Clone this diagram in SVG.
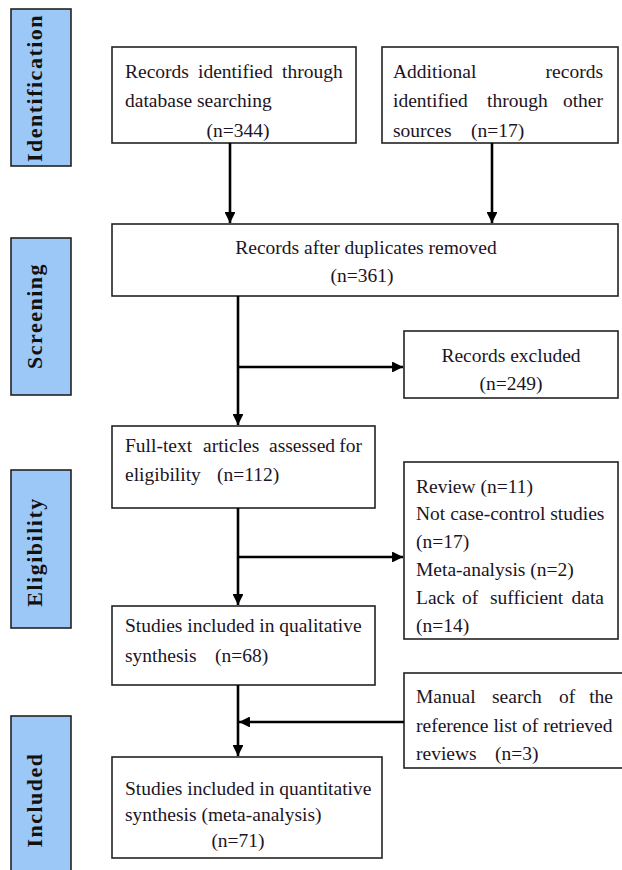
<svg xmlns="http://www.w3.org/2000/svg" width="622" height="870" viewBox="0 0 622 870">
<style>
.box{fill:#fff;stroke:#222;stroke-width:1.6}
.lab{fill:#9cc8f7;stroke:#222;stroke-width:1.6}
.t{font-family:"Liberation Serif","Times New Roman",serif;font-size:19.5px;fill:#1c1424}
.c{text-anchor:middle}
.lt{font-family:"Liberation Serif","Times New Roman",serif;font-size:22px;font-weight:bold;fill:#111;text-anchor:middle;letter-spacing:1.5px}
.ln{fill:none;stroke:#000;stroke-width:2.6}
</style>
<defs>
<marker id="ah" viewBox="0 0 10 10" refX="10" refY="5" markerWidth="4.2" markerHeight="4.2" orient="auto" markerUnits="strokeWidth">
<path d="M0,0 L10,5 L0,10 z" fill="#000"/>
</marker>
</defs>

<g id="label-identification">
<rect class="lab" x="11" y="9" width="60" height="157"/>
<text class="lt" transform="translate(42,88) rotate(-90)">Identification</text>
</g>
<g id="label-screening">
<rect class="lab" x="11" y="238" width="60" height="157"/>
<text class="lt" transform="translate(42,316) rotate(-90)">Screening</text>
</g>
<g id="label-eligibility">
<rect class="lab" x="11" y="470" width="60" height="158"/>
<text class="lt" transform="translate(42,552) rotate(-90)">Eligibility</text>
</g>
<g id="label-included">
<rect class="lab" x="11" y="716" width="60" height="170"/>
<text class="lt" transform="translate(42,800) rotate(-90)">Included</text>
</g>

<g id="n-database">
<rect class="box" x="112" y="47" width="244" height="96"/>
<text class="t"><tspan x="125" y="78">Records</tspan><tspan x="198" y="78">identified</tspan><tspan x="282" y="78">through</tspan></text>
<text class="t" x="125" y="107">database searching</text>
<text class="t c" x="238" y="137">(n=344)</text>
</g>

<g id="n-other">
<rect class="box" x="382" y="47" width="236" height="96"/>
<text class="t"><tspan x="393" y="78">Additional</tspan><tspan x="603" y="78" text-anchor="end">records</tspan></text>
<text class="t"><tspan x="393" y="107">identified</tspan><tspan x="487" y="107">through</tspan><tspan x="603" y="107" text-anchor="end">other</tspan></text>
<text class="t"><tspan x="393" y="137">sources</tspan><tspan x="471" y="137">(n=17)</tspan></text>
</g>

<g id="n-dedup">
<rect class="box" x="112" y="224" width="506" height="72"/>
<text class="t c" x="366" y="254">Records after duplicates removed</text>
<text class="t c" x="362" y="282">(n=361)</text>
</g>

<g id="n-excluded">
<rect class="box" x="404" y="331" width="214" height="67"/>
<text class="t c" x="511" y="362">Records excluded</text>
<text class="t c" x="511" y="390">(n=249)</text>
</g>

<g id="n-fulltext">
<rect class="box" x="112" y="426" width="263" height="82"/>
<text class="t"><tspan x="125" y="452">Full-text</tspan><tspan x="203" y="452">articles</tspan><tspan x="269" y="452">assessed</tspan><tspan x="362" y="452" text-anchor="end">for</tspan></text>
<text class="t"><tspan x="125" y="481">eligibility</tspan><tspan x="217" y="481">(n=112)</tspan></text>
</g>

<g id="n-excl2">
<rect class="box" x="404" y="462" width="214" height="177"/>
<text class="t" x="416" y="493">Review (n=11)</text>
<text class="t" x="416" y="520">Not case-control studies</text>
<text class="t" x="416" y="548">(n=17)</text>
<text class="t" x="416" y="576">Meta-analysis (n=2)</text>
<text class="t"><tspan x="416" y="604">Lack</tspan><tspan x="462" y="604">of</tspan><tspan x="490" y="604">sufficient</tspan><tspan x="604" y="604" text-anchor="end">data</tspan></text>
<text class="t" x="416" y="632">(n=14)</text>
</g>

<g id="n-qual">
<rect class="box" x="112" y="606" width="263" height="79"/>
<text class="t" x="125" y="632">Studies included in qualitative</text>
<text class="t"><tspan x="125" y="662">synthesis</tspan><tspan x="215" y="662">(n=68)</tspan></text>
</g>

<g id="n-manual">
<rect class="box" x="404" y="673" width="222" height="95"/>
<text class="t"><tspan x="416" y="703">Manual</tspan><tspan x="492" y="703">search</tspan><tspan x="559" y="703">of</tspan><tspan x="613" y="703" text-anchor="end">the</tspan></text>
<text class="t" x="416" y="732">reference list of retrieved</text>
<text class="t"><tspan x="416" y="760">reviews</tspan><tspan x="495" y="760">(n=3)</tspan></text>
</g>

<g id="n-quant">
<rect class="box" x="112" y="757" width="270" height="101"/>
<text class="t" x="125" y="795">Studies included in quantitative</text>
<text class="t" x="125" y="821">synthesis (meta-analysis)</text>
<text class="t c" x="238" y="847">(n=71)</text>
</g>

<g id="connectors">
<line class="ln" x1="230" y1="143" x2="230" y2="223" marker-end="url(#ah)"/>
<line class="ln" x1="492" y1="143" x2="492" y2="223" marker-end="url(#ah)"/>
<line class="ln" x1="238" y1="296" x2="238" y2="425" marker-end="url(#ah)"/>
<line class="ln" x1="238" y1="367" x2="403" y2="367" marker-end="url(#ah)"/>
<line class="ln" x1="238" y1="508" x2="238" y2="605" marker-end="url(#ah)"/>
<line class="ln" x1="238" y1="557" x2="403" y2="557" marker-end="url(#ah)"/>
<line class="ln" x1="238" y1="685" x2="238" y2="756" marker-end="url(#ah)"/>
<line class="ln" x1="404" y1="722" x2="239" y2="722" marker-end="url(#ah)"/>
</g>
</svg>
